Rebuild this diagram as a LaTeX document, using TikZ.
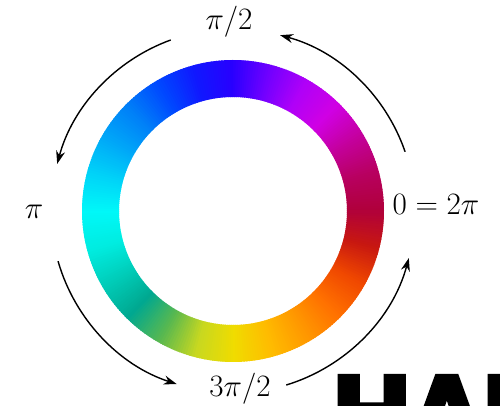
\documentclass[tikz,border=0pt]{standalone}
\usepackage{fontspec}
\usetikzlibrary{arrows.meta}
\newfontfamily\heavyfont{Liberation Sans}[BoldFeatures={FakeBold=7}]
\definecolor{k0}{HTML}{B0003C}
\definecolor{k1}{HTML}{B80060}
\definecolor{k2}{HTML}{C4009C}
\definecolor{k3}{HTML}{D000E4}
\definecolor{k4}{HTML}{B000F8}
\definecolor{k5}{HTML}{7000FF}
\definecolor{k6}{HTML}{2800FF}
\definecolor{k7}{HTML}{1018FF}
\definecolor{k8}{HTML}{0048FF}
\definecolor{k9}{HTML}{0080F8}
\definecolor{k10}{HTML}{00A8F8}
\definecolor{k11}{HTML}{00D4F8}
\definecolor{k12}{HTML}{00F8F8}
\definecolor{k13}{HTML}{00ECE0}
\definecolor{k14}{HTML}{00CCB8}
\definecolor{k15}{HTML}{00A890}
\definecolor{k16}{HTML}{58B850}
\definecolor{k17}{HTML}{C8D820}
\definecolor{k18}{HTML}{F0DC00}
\definecolor{k19}{HTML}{FFBC00}
\definecolor{k20}{HTML}{FF9800}
\definecolor{k21}{HTML}{FF7000}
\definecolor{k22}{HTML}{F04800}
\definecolor{k23}{HTML}{C81810}
\definecolor{k24}{HTML}{B0003C}
\tikzset{
  lbl/.style={inner sep=0pt, anchor=base, scale=1.25, transform shape, font=\fontsize{24.88}{28}\selectfont},
  turn/.style={line width=1.4pt, -{Stealth[length=13pt,width=9pt]}}
}
\begin{document}
\begin{tikzpicture}[x=1pt,y=1pt]
\useasboundingbox (0,0) rectangle (500,406);
\clip (0,0) rectangle (500,406);
\coordinate (ctr) at (233,195);
\begin{scope}[shift={(ctr)}]
\foreach \a/\ca/\cb in {0/k0/k1,15/k1/k2,30/k2/k3,45/k3/k4,60/k4/k5,75/k5/k6,90/k6/k7,105/k7/k8,120/k8/k9,135/k9/k10,150/k10/k11,165/k11/k12,180/k12/k13,195/k13/k14,210/k14/k15,225/k15/k16,240/k16/k17,255/k17/k18,270/k18/k19,285/k19/k20,300/k20/k21,315/k21/k22,330/k22/k23,345/k23/k24}{
  \foreach \i in {0,...,14}{
    \pgfmathsetmacro\p{100-\i*100/15}
    \pgfmathsetmacro\s{\a+\i}
    \pgfmathsetmacro\e{\a+\i+1.4}
    \fill[color=\ca!\p!\cb] (\s:151pt) arc[start angle=\s, end angle=\e, radius=151pt]
      -- (\e:114pt) arc[start angle=\e, end angle=\s, radius=114pt] -- cycle;
  }
}
\draw[turn] (19:182pt) arc[start angle=19, end angle=75, radius=182pt];
\draw[turn] (110:182pt) arc[start angle=110, end angle=165, radius=182pt];
\draw[turn] (196:182pt) arc[start angle=196, end angle=252, radius=182pt];
\draw[turn] (287:182pt) arc[start angle=287, end angle=345, radius=182pt];
\end{scope}
\node[lbl] (top) at (229,376) {$\pi/2$};
\node[lbl] (left) at (34,187) {$\pi$};
\node[lbl] (right) at (436,191) {$0=2\pi$};
\node[lbl] (bottom) at (240,9) {$3\pi/2$};
\node[inner sep=0pt, anchor=base west, font=\heavyfont\bfseries\fontsize{104}{104}\selectfont] (cut) at (334,-43) {HAR};
\end{tikzpicture}
\end{document}
